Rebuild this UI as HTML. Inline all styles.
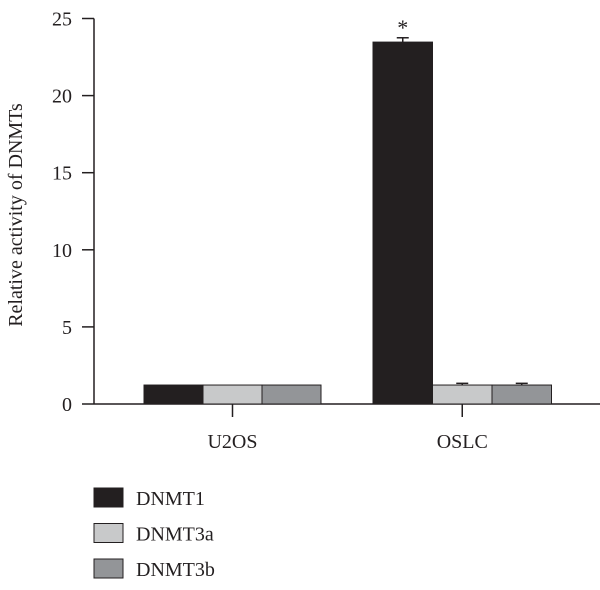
<!DOCTYPE html>
<html><head><meta charset="utf-8"><style>
body{margin:0;background:#fff;}
svg text{font-family:"Liberation Serif",serif;fill:#231f20;}
</style></head><body>
<svg id="chart" width="600" height="585" xmlns="http://www.w3.org/2000/svg">
<g id="axes"></g><g id="bars"></g><g id="legend"></g>
</svg>
<script>
const categories = ["U2OS", "OSLC"];
const seriesNames = ["DNMT1", "DNMT3a", "DNMT3b"];
const dnmt1 = [1.23, 23.47];
const dnmt3a = [1.23, 1.23];
const dnmt3b = [1.23, 1.23];
const errDnmt1 = [0, 0.28];
const errDnmt3a = [0, 0.11];
const errDnmt3b = [0, 0.11];
const yTicks = [0, 5, 10, 15, 20, 25];
const signif = ["", "*"];

const colors = ["#231f20", "#c8c9ca", "#939598"];
const NS = "http://www.w3.org/2000/svg";
const y0 = 404, y25 = 18.5, axisX = 94;
function yScale(v){ return y0 - (y0 - y25) * v / 25; }
const groupLeft = [144, 373];
const barW = [59, 59.5];
function barX(g, s){ return groupLeft[g] + s * barW[g]; }
function mk(tag, attrs, parent){ const e = document.createElementNS(NS, tag); for (const k in attrs) e.setAttribute(k, attrs[k]); parent.appendChild(e); return e; }

const axes = document.getElementById("axes");
let l = mk("line", {x1: axisX, y1: y25, x2: axisX, y2: y0, stroke: "#231f20", "stroke-width": 1.5}, axes);


l = mk("line", {x1: axisX, y1: y0, x2: 600, y2: y0, stroke: "#231f20", "stroke-width": 1.5}, axes);


yTicks.forEach(t => {
  const yy = yScale(t);
  const tk = mk("line", {x1: 82, y1: yy, x2: axisX, y2: yy, stroke: "#231f20", "stroke-width": 1.5}, axes);
  
  
  const tx = mk("text", {x: 72, y: yy + 7, "text-anchor": "end", "font-size": 20}, axes);
  tx.textContent = t;
  
  
});
const yt = mk("text", {x: 0, y: 0, "text-anchor": "middle", "font-size": 20, transform: "translate(22,215) rotate(-90)"}, axes);
yt.textContent = "Relative activity of DNMTs";



const bars = document.getElementById("bars");
const series = [dnmt1, dnmt3a, dnmt3b];
const errs = [errDnmt1, errDnmt3a, errDnmt3b];
categories.forEach((c, g) => {
  series.forEach((vals, s) => {
    const x = barX(g, s), w = barW[g], top = yScale(vals[g]);
    const e = errs[s][g];
    if (e > 0) {
      const ey = yScale(vals[g] + e), cx = x + w / 2;
      const el = mk("line", {x1: cx, y1: top, x2: cx, y2: ey, stroke: "#231f20", "stroke-width": 1.5}, bars);
      
      
      const cap = mk("line", {x1: cx - 6, y1: ey, x2: cx + 6, y2: ey, stroke: "#231f20", "stroke-width": 1.5}, bars);
      
      
    }
    const r = mk("rect", {x: x, y: top, width: w, height: y0 - top, fill: colors[s], stroke: "#231f20", "stroke-width": 1}, bars);
    
    
  });
  const cx = groupLeft[g] + barW[g] * 1.5;
  const tk = mk("line", {x1: cx, y1: y0, x2: cx, y2: 417, stroke: "#231f20", "stroke-width": 1.5}, axes);
  
  
  const tx = mk("text", {x: cx, y: 448, "text-anchor": "middle", "font-size": 20}, axes);
  tx.textContent = c;
  
  
  if (signif[g]) {
    const st = mk("text", {x: barX(g, 0) + barW[g] / 2, y: yScale(dnmt1[g] + errDnmt1[g]) - 3, "text-anchor": "middle", "font-size": 22}, bars);
    st.textContent = signif[g];
    
    
  }
});

const legend = document.getElementById("legend");
seriesNames.forEach((n, i) => {
  const yy = 488 + i * 35.5;
  const r = mk("rect", {x: 94, y: yy, width: 29, height: 19, fill: colors[i], stroke: "#231f20", "stroke-width": 1}, legend);
  
  
  const t = mk("text", {x: 136, y: yy + 17, "font-size": 20}, legend);
  t.textContent = n;
  
  
});
</script>
</body></html>
